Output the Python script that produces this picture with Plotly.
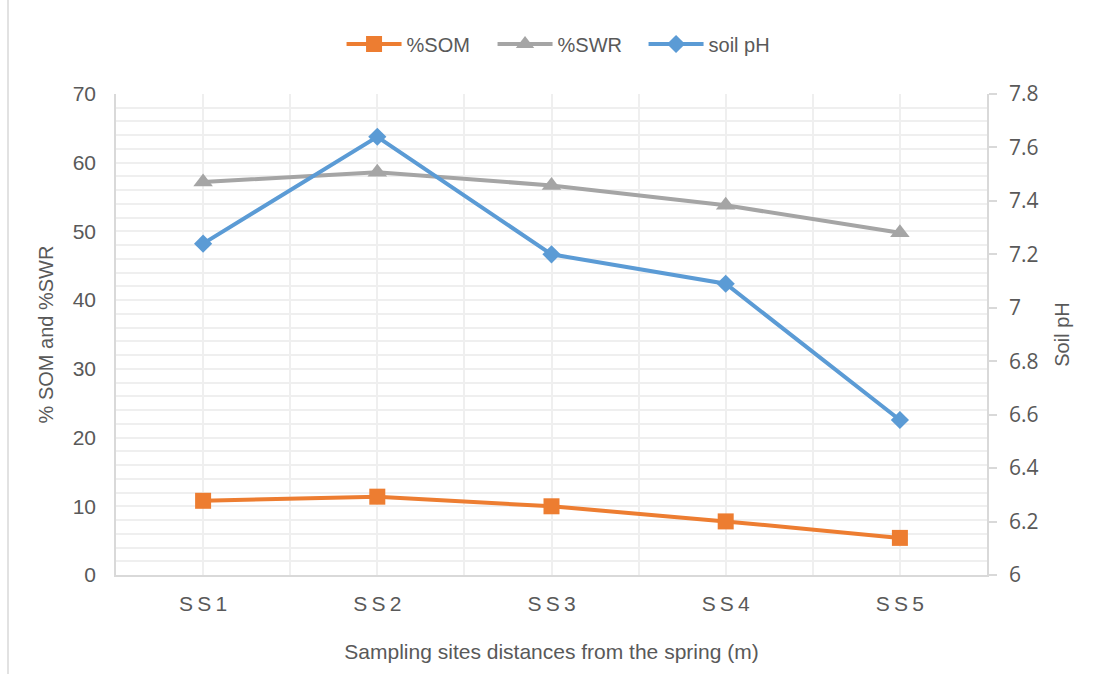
import plotly.graph_objects as go

# Sampling sites along the distance from the spring
sites = ["S\u2009S\u20091", "S\u2009S\u20092", "S\u2009S\u20093", "S\u2009S\u20094", "S\u2009S\u20095"]

# Soil measurements per site
som_pct = [10.8, 11.4, 10.0, 7.8, 5.4]      # % soil organic matter
swr_pct = [57.2, 58.6, 56.7, 53.8, 49.8]    # % soil water retention
soil_ph = [7.24, 7.64, 7.20, 7.09, 6.58]    # soil pH (right axis)

x_pos = list(range(len(sites)))

TEXT = "#595959"
GRID = "#EFEFEF"
AXIS = "#D9D9D9"
FONT = "Liberation Sans, Arial, sans-serif"

fig = go.Figure()

fig.add_trace(go.Scatter(
    x=x_pos, y=som_pct, name="%SOM", mode="lines+markers",
    line=dict(color="#ED7D31", width=4),
    marker=dict(symbol="square", size=16, color="#ED7D31"),
))
fig.add_trace(go.Scatter(
    x=x_pos, y=swr_pct, name="%SWR", mode="lines+markers",
    line=dict(color="#A5A5A5", width=4),
    marker=dict(symbol="triangle-up", size=17, color="#A5A5A5"),
))
fig.add_trace(go.Scatter(
    x=x_pos, y=soil_ph, name="soil pH", mode="lines+markers", yaxis="y2",
    line=dict(color="#5B9BD5", width=4),
    marker=dict(symbol="diamond", size=14, color="#5B9BD5"),
))

fig.update_layout(
    width=1095, height=675,
    margin=dict(l=116, r=108, t=94, b=100),
    paper_bgcolor="white", plot_bgcolor="white",
    font=dict(family=FONT, size=20, color=TEXT),
    showlegend=True,
    legend=dict(
        orientation="h", x=0.519, xanchor="center", y=1.104, yanchor="middle",
        font=dict(family=FONT, size=20, color=TEXT),
        itemwidth=55, entrywidth=81,
    ),
    xaxis=dict(
        range=[-0.5, 4.5],
        tickmode="array", tickvals=x_pos, ticktext=sites,
        showgrid=True, gridcolor=GRID, gridwidth=1.5,
        minor=dict(tickmode="array", tickvals=[i + 0.5 for i in range(-1, len(sites))],
                   showgrid=True, gridcolor=GRID, gridwidth=1.5),
        showline=True, linecolor=AXIS, linewidth=1.5,
        ticks="", zeroline=False,
        tickfont=dict(family=FONT, size=21, color=TEXT),
        ticklabelstandoff=9,
        title=dict(text="Sampling sites distances from the spring (m)",
                   font=dict(family=FONT, size=21, color=TEXT), standoff=30),
    ),
    yaxis=dict(
        range=[0, 70], dtick=10,
        showgrid=True, gridcolor=GRID, gridwidth=1.5,
        minor=dict(dtick=2, showgrid=True, gridcolor=GRID, gridwidth=1.5),
        showline=True, linecolor=AXIS, linewidth=1.5,
        ticks="", zeroline=False,
        tickfont=dict(family=FONT, size=21, color=TEXT),
        ticklabelstandoff=14,
        title=dict(text="% SOM and %SWR",
                   font=dict(family=FONT, size=20, color=TEXT), standoff=14),
    ),
    yaxis2=dict(
        overlaying="y", side="right",
        range=[6, 7.8], dtick=0.2,
        showgrid=False, zeroline=False,
        showline=True, linecolor=AXIS, linewidth=1.5,
        ticks="outside", ticklen=8, tickcolor=AXIS, tickwidth=1.5,
        tickfont=dict(family="Open Sans", size=21, color=TEXT),
        ticklabelstandoff=8,
        title=dict(text="Soil pH",
                   font=dict(family=FONT, size=20, color=TEXT), standoff=18),
    ),
    shapes=[
        # thin frame line on the left edge of the chart area
        dict(type="line", xref="paper", yref="paper",
             x0=(8 - 116) / 871, x1=(8 - 116) / 871,
             y0=575 / 481, y1=(575 - 674) / 481,
             line=dict(color=AXIS, width=1.5)),
    ],
)

fig.write_html("out.html")
